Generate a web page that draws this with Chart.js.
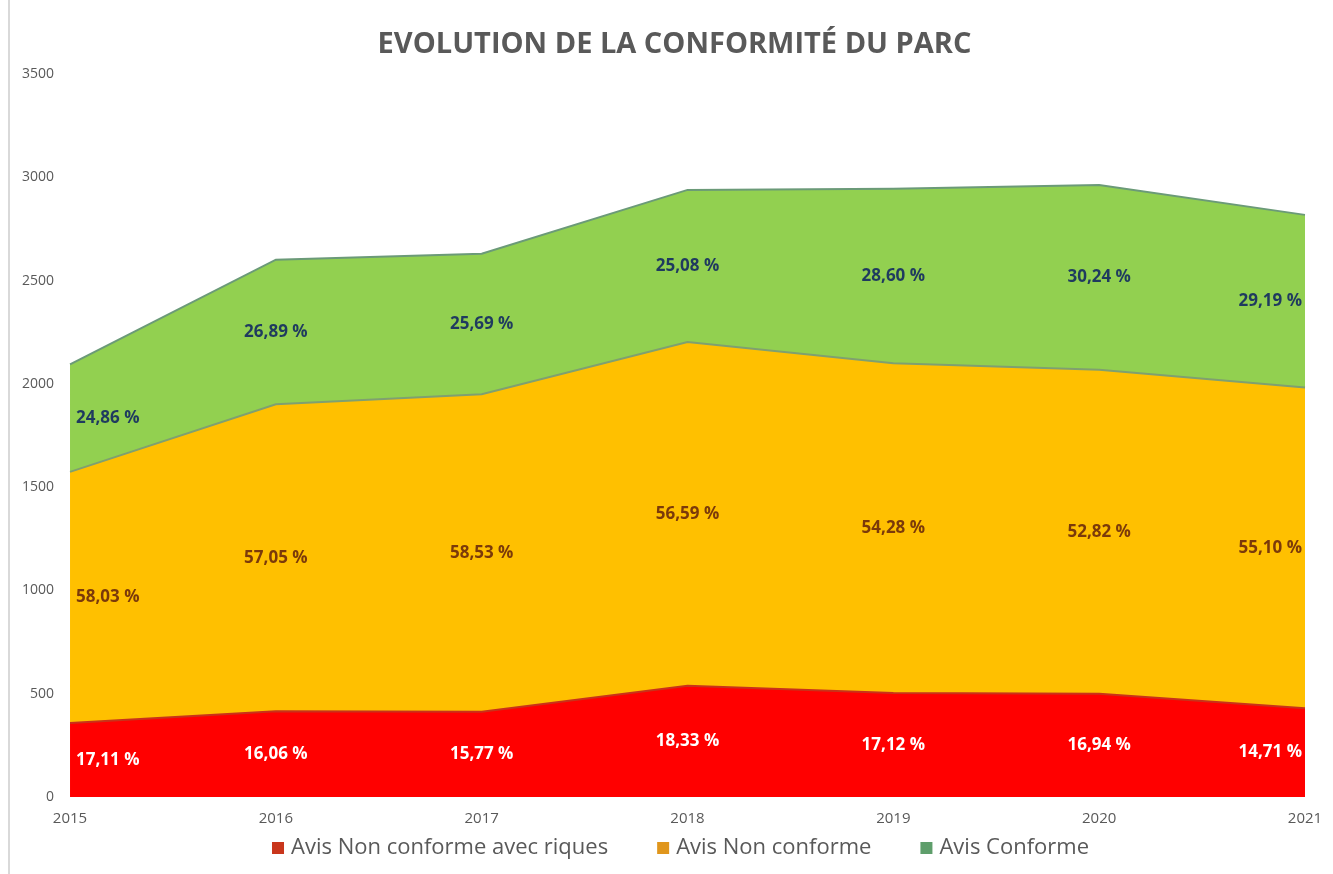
<!DOCTYPE html>
<html>
<head>
<meta charset="utf-8">
<script src="https://cdn.jsdelivr.net/npm/chart.js@4"></script>
<style>
  html, body { margin: 0; padding: 0; background: #fff; }
  #wrap { height: 874px; position: relative; box-sizing: border-box; border-left: 2px solid #d9d9d9; margin-left: 8px; width: 1325px; }
</style>
</head>
<body>
<div id="wrap"><canvas id="parcChart" width="1323" height="874"></canvas></div>
<script>
const years = ['2015', '2016', '2017', '2018', '2019', '2020', '2021']
const avisRisques = [358, 415, 413, 538, 504, 500, 430]
const avisNonConforme = [1216, 1486, 1537, 1665, 1596, 1568, 1552]
const avisConforme = [520, 700, 680, 736, 844, 895, 836]
const pctRisques = [17.11, 16.06, 15.77, 18.33, 17.12, 16.94, 14.71]
const pctNonConforme = [58.03, 57.05, 58.53, 56.59, 54.28, 52.82, 55.10]
const pctConforme = [24.86, 26.89, 25.69, 25.08, 28.60, 30.24, 29.19]
const yTicks = [0, 500, 1000, 1500, 2000, 2500, 3000, 3500]

const chartTitle = 'EVOLUTION DE LA CONFORMITÉ DU PARC'
const pcts = [pctRisques, pctNonConforme, pctConforme]
const labelColors = ['#ffffff', '#7b3a0a', '#1f3a5f']
const legendColors = ['#c9361c', '#e0961c', '#5e9e6b']

// draws the percentage in the middle of each band
const bandLabels = {
  id: 'bandLabels',
  afterDatasetsDraw(chart) {
    const ctx = chart.ctx
    const zero = chart.scales.y.getPixelForValue(0)
    ctx.save()
    ctx.font = 'bold 17px "Open Sans"'
    ctx.textBaseline = 'middle'
    chart.data.datasets.forEach((ds, i) => {
      const meta = chart.getDatasetMeta(i)
      const prev = i > 0 ? chart.getDatasetMeta(i - 1) : null
      meta.data.forEach((pt, j) => {
        const bottom = prev ? prev.data[j].y : zero
        const y = (pt.y + bottom) / 2
        let x = pt.x
        ctx.textAlign = 'center'
        if (j === 0) { ctx.textAlign = 'left'; x += 6 }
        if (j === meta.data.length - 1) { ctx.textAlign = 'right'; x -= 3 }
        ctx.fillStyle = labelColors[i]
        ctx.fillText(pcts[i][j].toFixed(2).replace('.', ',') + ' %', x, y)
      })
    })
    ctx.restore()
  }
}

// title and legend drawn by hand so they sit where the original has them
const titleAndLegend = {
  id: 'titleAndLegend',
  afterDraw(chart) {
    const ctx = chart.ctx
    ctx.save()
    ctx.textBaseline = 'middle'
    ctx.textAlign = 'center'
    ctx.fillStyle = '#595959'
    ctx.font = 'bold 29px "Open Sans"'
    ctx.fillText(chartTitle, chart.width / 2 + 3, 45)

    const box = 12, gapText = 7, gapItem = 49
    ctx.font = '22px "Open Sans"'
    ctx.textAlign = 'left'
    const items = chart.data.datasets.map((ds, i) => ({ text: ds.label, color: legendColors[i], w: ctx.measureText(ds.label).width }))
    let total = items.reduce((s, it) => s + box + gapText + it.w, 0) + gapItem * (items.length - 1)
    let x = (chart.chartArea.left + chart.chartArea.right) / 2 - total / 2 - 7
    const y = 848
    items.forEach(it => {
      ctx.fillStyle = it.color
      ctx.fillRect(x, y - box / 2, box, box)
      ctx.fillStyle = '#595959'
      ctx.fillText(it.text, x + box + gapText, y)
      x += box + gapText + it.w + gapItem
    })
    ctx.restore()
  }
}

let parcChart = new Chart(document.getElementById('parcChart').getContext('2d'), {
  type: 'line',
  data: {
    labels: years,
    datasets: [{
      label: 'Avis Non conforme avec riques',
      data: avisRisques,
      backgroundColor: '#ff0000',
      borderColor: '#c8321a',
      borderWidth: 2,
      fill: 'origin',
      pointRadius: 0,
      tension: 0
    }, {
      label: 'Avis Non conforme',
      data: avisNonConforme,
      backgroundColor: '#ffc000',
      borderColor: '#7fa070',
      borderWidth: 2,
      fill: '-1',
      pointRadius: 0,
      tension: 0
    }, {
      label: 'Avis Conforme',
      data: avisConforme,
      backgroundColor: '#92d050',
      borderColor: '#6b9a78',
      borderWidth: 2,
      fill: '-1',
      pointRadius: 0,
      tension: 0
    }]
  },
  options: {
    responsive: false,
    animation: false,
    layout: { padding: { left: 4, right: 28, top: 74, bottom: 41 } },
    plugins: {
      title: { display: false },
      legend: { display: false },
      tooltip: { enabled: false }
    },
    scales: {
      x: {
        offset: false,
        grid: { display: false },
        border: { display: false },
        ticks: { color: '#595959', font: { family: '"Open Sans"', size: 15 }, padding: 5, maxRotation: 0 }
      },
      y: {
        stacked: true,
        min: 0,
        max: 3500,
        afterBuildTicks(axis) { axis.ticks = yTicks.map(v => ({ value: v })) },
        grid: { display: false },
        border: { display: false },
        ticks: { color: '#595959', font: { family: '"Open Sans"', size: 14 }, padding: 8, callback: v => String(v) }
      }
    }
  },
  plugins: [bandLabels, titleAndLegend]
})
</script>
</body>
</html>
